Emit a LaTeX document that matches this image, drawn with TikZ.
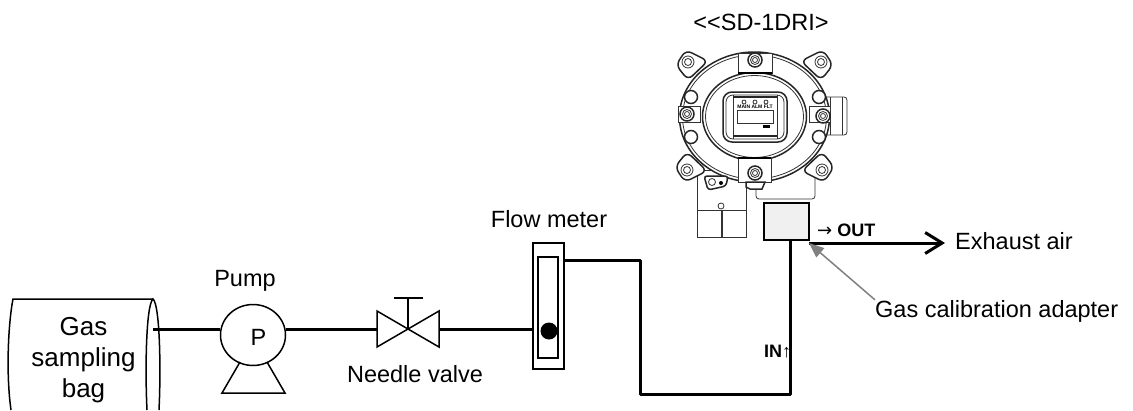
\documentclass[tikz,border=0pt]{standalone}
\usepackage{fontspec}
\setmainfont{Liberation Sans}
\newfontfamily\arrowfont{DejaVu Sans}
\usetikzlibrary{positioning,arrows.meta,shapes.geometric}

\begin{document}
\begin{tikzpicture}[
  x=1pt, y=-1pt,
  font=\fontsize{23.5}{29}\selectfont,
  lbl/.style={inner sep=0pt, align=center},
  tag/.style={inner sep=0pt, font=\fontsize{18}{20}\selectfont\bfseries},
  pipe/.style={line width=3pt},
  sym/.style={draw, line width=1.5pt, fill=white},
  dev/.style={draw=black!80, line width=0.8pt},
  devthick/.style={draw=black!85, line width=1.5pt}]
\useasboundingbox (0,0) rectangle (1133,410);

% sensor housing
\draw[dev, fill=white] (697,170) rectangle (746,210);
\draw[dev] (697,210) rectangle (721,237) (722,210) rectangle (746,237);
\draw[dev, fill=white] (721,206) circle (3pt);
\draw[dev, fill=white, rounded corners=3pt] (756,170) -- (756,199) -- (815,199) -- (815,160);
\draw[dev, fill=white, rounded corners=3pt] (825,97) -- (847,97) -- (847,135) -- (825,135);
\draw[dev] (830,97) -- (830,135) (842,97) -- (842,135);
\foreach \ex/\ey/\sx/\sy in {688/62/1/1, 821/62/-1/1, 687/170/1/-1, 822/170/-1/-1} {
  \begin{scope}[shift={(\ex,\ey)}, xscale=\sx, yscale=\sy]
    \draw[devthick, fill=white, rounded corners=6pt] (-12,3) -- (-2,-12) -- (20,-1) -- (0,18) -- cycle;
    \draw[dev] (0,0) circle (6pt) (0,0) circle (3.5pt);
  \end{scope}
}
\draw[devthick, fill=white] (754.5,117) ellipse [x radius=75pt, y radius=65pt];
\draw[dev] (754.5,117) ellipse [x radius=72pt, y radius=62pt];
\draw[devthick, fill=white] (754.5,116.5) ellipse [x radius=52pt, y radius=44pt];
\draw[dev] (754.5,116.5) ellipse [x radius=49pt, y radius=41pt];
\foreach \hx/\hy in {691/97, 691/137, 819/97, 819/137}
  \draw[devthick, fill=white] (\hx,\hy) circle (6.5pt);
% bolts
\draw[dev, fill=white] (738,53) rectangle (772,73);
\draw[line width=2pt] (738,73) -- (772,73);
\draw[dev, fill=white] (738,158) rectangle (771,182);
\draw[line width=2pt] (738,158) -- (771,158);
\draw[dev, fill=white] (678,106) rectangle (700,122);
\draw[dev, fill=white] (809,106) rectangle (830,122);
\draw[devthick, fill=white] (746,182) -- (746,187) -- (750,189) -- (762,189) -- (765,182) -- cycle;
\foreach \bx/\by in {755,60, 755/173, 687/116, 823/116} {}
\foreach \bx/\by in {755/60, 755/173, 687/114, 823/116} {
  \draw[devthick, fill=white] (\bx,\by) circle (7pt);
  \draw[dev] (\bx,\by) circle (4.5pt) (\bx,\by) circle (2.5pt);
}
% badge
\draw[devthick, fill=white, rounded corners=3pt] (704,176) -- (728,176) -- (726,186) -- (708,190) -- cycle;
\draw[dev] (712,182) circle (3.5pt);
\fill (721,183) circle (2pt);
% window
\draw[devthick, fill=white, rounded corners=9pt] (723,92) rectangle (787,142);
\draw[dev, rounded corners=7pt] (726,95) rectangle (784,139);
\draw[dev] (733,95) -- (733,139) (777,95) -- (777,139);
\draw[devthick] (733,97) -- (777,97) (733,136) -- (777,136);
\draw[dev] (737,110) rectangle (773,123);
\foreach \lx in {744,755,766} \draw[dev] (\lx,102) circle (2pt);
\node[inner sep=0pt, font=\fontsize{5}{6}\selectfont\bfseries] (leds) at (755,106.5) {MAIN ALM FLT};
\fill (763,125) rectangle (770,127.5);

% adapter and line symbols
\node[draw, line width=1.8pt, fill=black!6, inner sep=0pt, minimum width=45pt, minimum height=37pt] (adapter) at (786.5,221.5) {};
\node[lbl, font=\fontsize{26}{31}\selectfont] (bag) at (83.5,360) {Gas\\sampling\\bag};
\draw[line width=1.5pt] (153,299) -- (13,299) .. controls (8,325) and (6,375) .. (11,410);
\draw[line width=1.5pt] (147,410) .. controls (145,370) and (146,305) .. (153,299) .. controls (160,305) and (161,370) .. (159,410);
\coordinate (bagout) at (153,329);

\node[draw, ellipse, line width=1.5pt, inner sep=0pt, minimum width=65pt, minimum height=61pt] (pump) at (253,335) {};
\node[inner sep=0pt] (p) at (258.5,337) {P};
\draw[sym, fill=none] (240,362) -- (222,393) -- (285,393) -- (267,362);
\node[lbl] (pumplbl) at (245,281) {Pump};
\coordinate (pumpin) at (220,329);
\coordinate (pumpout) at (285.5,329);

\coordinate (valve) at (408,329);
\draw[sym] (valve) -- (377,311) -- (377,347) -- cycle;
\draw[sym] (valve) -- (439,311) -- (439,347) -- cycle;
\draw[line width=2.2pt] (valve) -- (408,298) (394,298) -- (423,298);
\node[lbl] (valvelbl) at (415,374) {Needle valve};
\coordinate (valvein) at (377,329);
\coordinate (valveout) at (439,329);

\node[draw, line width=1.5pt, inner sep=0pt, minimum width=31pt, minimum height=126pt] (meter) at (548.5,306) {};
\node[draw, line width=1.5pt, inner sep=0pt, minimum width=20pt, minimum height=101pt] (tube) at (548,307.5) {};
\fill (549,331) circle (8.5pt);
\node[lbl] (meterlbl) at (549,219) {Flow meter};
\coordinate (meterin) at (533,329);
\coordinate (meterout) at (564,260);

% pipes
\coordinate (low) at (640,394);
\coordinate (adin) at (790,240);
\coordinate (adout) at (809,243);
\coordinate (exh) at (945,243);
\draw[pipe] (bagout) -- (pumpin);
\draw[pipe] (pumpout) -- (valvein);
\draw[pipe] (valveout) -- (meterin);
\draw[pipe, line join=round] (meterout) -| (low) -| (adin);
\draw[pipe, -{Straight Barb[length=17pt,width=21pt,line width=3pt]}] (adout) -- (exh);
\node[lbl, anchor=west] (exhaust) at (955,241) {Exhaust air};

\node[lbl, anchor=west] (gca) at (875,311) {Gas calibration adapter};
\draw[black!50, line width=1.5pt, -{Triangle[length=15pt,width=12pt]}] (gca.north west) -- (adout);
\node[tag, anchor=west] (outlbl) at (817,230) {{\arrowfont\mdseries →} OUT};
\node[tag, anchor=west] (inlbl) at (764,352) {IN\textmd{↑}};
\node[lbl] (model) at (761,22) {<{}<SD-1DRI>};
\end{tikzpicture}
\end{document}
